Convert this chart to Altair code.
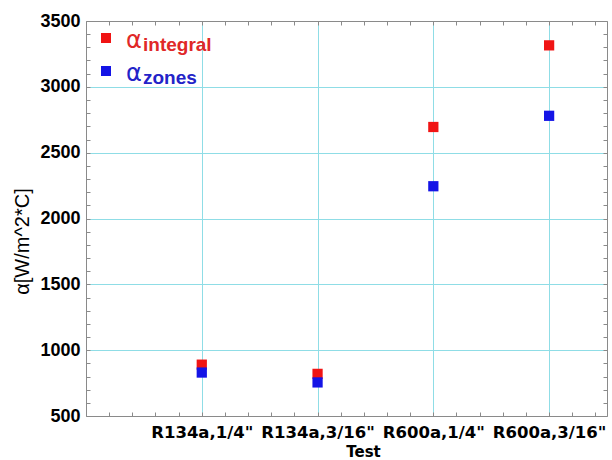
import altair as alt
import pandas as pd

# Test cases along the x axis
tests = ['R134a,1/4"', 'R134a,3/16"', 'R600a,1/4"', 'R600a,3/16"']

# Heat transfer coefficient per test [W/m^2*C]
alpha_integral = [890, 820, 2695, 3315]
alpha_zones = [830, 755, 2245, 2780]

series_names = ["integral", "zones"]
series_colors = ["#f01414", "#1414e6"]
text_colors = ["#e02828", "#2323c8"]

y_ticks = [500, 1000, 1500, 2000, 2500, 3000, 3500]
y_minor = list(range(500, 3600, 100))
x_minor = [round(0.2 * k, 1) for k in range(0, 23)]

W, H = 521, 395
GRID = "#8fdde6"
FRAME = "#8a8a8a"

rows = []
for i, t in enumerate(tests):
    rows.append({"pos": i + 1, "test": t, "series": series_names[0], "value": alpha_integral[i]})
    rows.append({"pos": i + 1, "test": t, "series": series_names[1], "value": alpha_zones[i]})
df = pd.DataFrame(rows)

x_scale = alt.Scale(domain=[0, 4.5], nice=False, zero=False)
y_scale = alt.Scale(domain=[500, 3500], nice=False, zero=False)

label_expr = "[" + ",".join("'" + t + "'" for t in tests) + "][datum.value - 1]"

# Data points with the main axes, labels and grid
points = alt.Chart(df).mark_square(size=105, opacity=1).encode(
    x=alt.X("pos:Q", scale=x_scale, axis=alt.Axis(
        orient="bottom", values=[1, 2, 3, 4], labelExpr=label_expr,
        ticks=False, tickSize=0,
        labelFont="DejaVu Sans", labelFontSize=16.5, labelFontWeight="bold",
        labelColor="black", labelBaseline="alphabetic", labelPadding=21,
        labelAlign="center", labelFlush=False, labelOverlap=False,
        grid=True, gridColor=GRID, gridWidth=1,
        domain=True, domainColor=FRAME, domainWidth=1,
        title="Test", titleFont="DejaVu Sans", titleFontSize=15,
        titleFontWeight="bold", titleColor="black",
        titleX=277, titleY=40, titleBaseline="alphabetic", titleAlign="center")),
    y=alt.Y("value:Q", scale=y_scale, axis=alt.Axis(
        orient="left", values=y_ticks, format="d", ticks=False, tickSize=0,
        labelPadding=6, labelFont="Liberation Sans", labelFontSize=18,
        labelFontWeight="bold", labelColor="black", labelFlush=False,
        grid=True, gridColor=GRID, gridWidth=1,
        gridOpacity=alt.condition("datum.value == 500 || datum.value == 3500",
                                  alt.value(0), alt.value(1)),
        domain=True, domainColor=FRAME, domainWidth=1,
        title="α[W/m^2*C]", titleFont="Liberation Sans", titleFontSize=20,
        titleFontWeight="normal", titleColor="black", titleAngle=270,
        titleX=-58, titleY=220, titleBaseline="alphabetic", titleAlign="center")),
    color=alt.Color("series:N",
                    scale=alt.Scale(domain=series_names, range=series_colors),
                    legend=None),
)

# Inward minor ticks along the bottom and left edges
inner_ticks = alt.Chart(df).mark_square(opacity=0).encode(
    x=alt.X("pos:Q", scale=x_scale, axis=alt.Axis(
        orient="top", offset=-H, values=x_minor, labels=False, domain=False,
        grid=False, ticks=True, tickSize=4, tickColor=FRAME, title=None)),
    y=alt.Y("value:Q", scale=y_scale, axis=alt.Axis(
        orient="right", offset=-W, values=y_minor, labels=False, domain=False,
        grid=False, ticks=True, tickSize=4, tickColor=FRAME, title=None)),
)

# Top and right frame edges with inward minor ticks
outer_frame = alt.Chart(df).mark_square(opacity=0).encode(
    x=alt.X("pos:Q", scale=x_scale, axis=alt.Axis(
        orient="bottom", offset=-H, values=x_minor, labels=False, domain=True,
        domainColor=FRAME, grid=False, ticks=True, tickSize=4,
        tickColor=FRAME, title=None)),
    y=alt.Y("value:Q", scale=y_scale, axis=alt.Axis(
        orient="left", offset=-W, values=y_minor, labels=False, domain=True,
        domainColor=FRAME, grid=False, ticks=True, tickSize=4,
        tickColor=FRAME, title=None)),
)

# Legend: coloured square, alpha symbol and subscripted series name
legend_layers = []
for i, (name, col, tcol) in enumerate(zip(series_names, series_colors, text_colors)):
    base = alt.Chart(pd.DataFrame({"series": [name]}))
    cy = 17 + 33 * i
    legend_layers.append(
        base.mark_square(size=100, color=col, opacity=1).encode(
            x=alt.value(20), y=alt.value(cy)))
    legend_layers.append(
        base.mark_text(text="α", font="DejaVu Sans", fontSize=24, color=tcol,
                       align="left", baseline="alphabetic").encode(
            x=alt.value(40), y=alt.value(cy + 10)))
    legend_layers.append(
        base.mark_text(font="Liberation Sans", fontSize=19, fontWeight="bold",
                       color=tcol, align="left", baseline="alphabetic").encode(
            text="series:N", x=alt.value(57), y=alt.value(cy + 13)))

chart = alt.layer(points, inner_ticks, outer_frame, *legend_layers).resolve_axis(
    x="independent", y="independent"
).properties(
    width=W, height=H,
    padding={"left": 86, "top": 21, "right": 5, "bottom": 44},
    autosize=alt.AutoSizeParams(type="none"),
    background="white",
).configure_view(stroke=None)

chart.save("out.html", embed_options={"renderer": "svg", "actions": False})
